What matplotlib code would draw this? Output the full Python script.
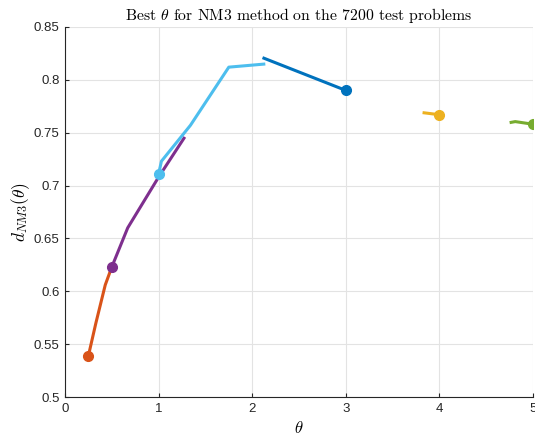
import matplotlib
matplotlib.use("Agg")
import matplotlib.pyplot as plt

plt.rcParams['mathtext.fontset'] = 'cm'
plt.rcParams['font.family'] = ['Liberation Sans', 'DejaVu Sans']

# theta ranges and the resulting d_NM3 values, one segment per refinement step
theta_orange = [0.25, 0.33, 0.43, 0.5]
d_orange = [0.539, 0.570, 0.606, 0.623]

theta_purple = [0.5, 0.67, 1.0, 1.28]
d_purple = [0.623, 0.660, 0.708, 0.746]

theta_cyan = [1.0, 1.03, 1.34, 1.75, 2.14]
d_cyan = [0.711, 0.723, 0.757, 0.812, 0.815]

theta_blue = [2.11, 3.0]
d_blue = [0.821, 0.790]

theta_yellow = [3.82, 4.0]
d_yellow = [0.769, 0.767]

theta_green = [4.75, 4.81, 5.0]
d_green = [0.7595, 0.7605, 0.758]

segments = [
    (theta_blue, d_blue, '#0072BD', 1),
    (theta_orange, d_orange, '#D95319', 0),
    (theta_yellow, d_yellow, '#EDB120', 1),
    (theta_purple, d_purple, '#7E2F8E', 0),
    (theta_green, d_green, '#77AC30', 1),
    (theta_cyan, d_cyan, '#4DBEEE', 0),
]

fig = plt.figure(figsize=(5.35, 4.38), dpi=100)
ax = fig.add_axes([0.1215, 0.0936, 0.8748, 0.8448])

for th, d, col, end in segments:
    ax.plot(th, d, color=col, lw=2.2, solid_capstyle='butt')
    i = 0 if end == 0 else -1
    ax.plot(th[i], d[i], 'o', color=col, ms=7, mec=col)

ax.set_xlim(0, 5)
ax.set_ylim(0.5, 0.85)
ax.set_xticks([0, 1, 2, 3, 4, 5])
ax.set_yticks([0.5, 0.55, 0.6, 0.65, 0.7, 0.75, 0.8, 0.85])
ax.set_yticklabels(['0.5', '0.55', '0.6', '0.65', '0.7', '0.75', '0.8', '0.85'])

ax.grid(True, color='#e3e3e3', lw=0.8)
ax.set_axisbelow(True)
for s in ['top', 'right']:
    ax.spines[s].set_visible(False)
for s in ['left', 'bottom']:
    ax.spines[s].set_color('#262626')
    ax.spines[s].set_linewidth(0.8)
ax.tick_params(direction='in', length=3, width=0.8, colors='#262626',
               labelsize=9.5, pad=4)

ax.set_title(r'Best $\theta$ for NM3 method on the 7200 test problems',
             fontfamily='cmr10', fontsize=11.3, pad=5)
ax.set_xlabel(r'$\theta$', fontsize=12, labelpad=4)
ax.set_ylabel(r'$d_{NM3}(\theta)$', fontsize=12.5, labelpad=1)

fig.savefig('out.png', dpi=100)
